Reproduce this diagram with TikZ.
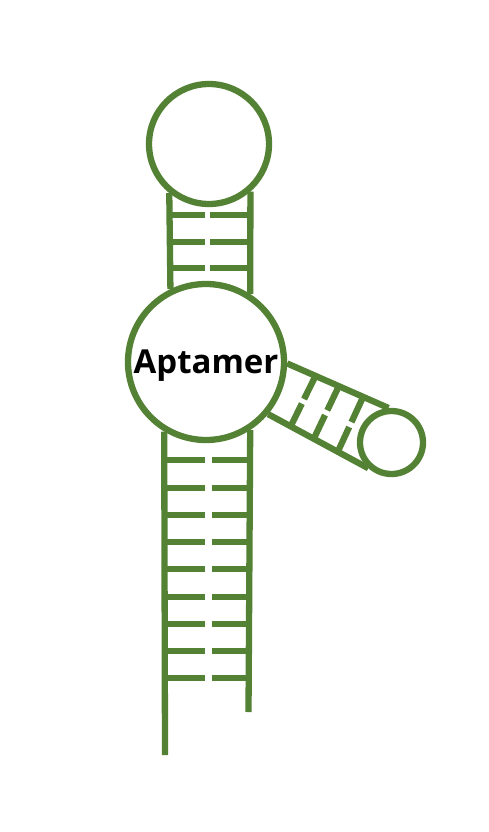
\documentclass[tikz,border=0pt]{standalone}
\usepackage{fontspec}
\setsansfont{Open Sans}
\usetikzlibrary{calc}

\definecolor{stemgreen}{RGB}{84,130,53}

\tikzset{
    strand/.style={draw=stemgreen, line width=6.3pt},
    loopcirc/.style={circle, draw=stemgreen, line width=6.3pt, fill=white, inner sep=0pt},
}

\begin{document}
\begin{tikzpicture}[x=1pt,y=-1pt]

    \useasboundingbox (0,0) rectangle (488,832);

    \node
        [ loopcirc,
            minimum size=120pt,
        ] (hairpin) at (209,144) {};

    \node
        [ loopcirc,
            minimum size=156pt,
            font=\sffamily\bfseries\fontsize{33}{36}\selectfont,
            text depth=0pt,
        ] (apt) at (206,362) {Aptamer};

    \node
        [ loopcirc,
            minimum size=63pt,
        ] (side) at (391.5,442.5) {};

    % upper stem
    \draw[strand] (hairpin.-129.3) -- (apt.116.7);
    \draw[strand] (hairpin.-49.5) -- (apt.57.4);
    \foreach \y in {215,242,268} {
        \draw[strand] (171,\y) -- (205,\y);
        \draw[strand] (210,\y) -- (248,\y);
    }

    % lower stem
    \coordinate (end5) at (165,755);
    \coordinate (end3) at (248.5,712);
    \draw[strand] (apt.-121.7) -- (end5);
    \draw[strand] (apt.-57) -- (end3);
    \foreach \y in {460,488,515,542,569,597,624,651,678} {
        \draw[strand] (165,\y) -- (205,\y);
        \draw[strand] (212,\y) -- (248.5,\y);
    }

    % side branch
    \draw[strand] (apt.-1) -- (side.95);
    \draw[strand] (apt.-40) -- (side.-132);
    \foreach \t/\s in {0.28/0.225,0.51/0.455,0.75/0.695} {
        \coordinate (ra) at ($(apt.-1)!\t!(side.95)$);
        \coordinate (rb) at ($(apt.-40)!\s!(side.-132)$);
        \draw[strand] (ra) -- ($(ra)!0.46!(rb)$);
        \draw[strand] ($(ra)!0.55!(rb)$) -- (rb);
    }

\end{tikzpicture}
\end{document}
